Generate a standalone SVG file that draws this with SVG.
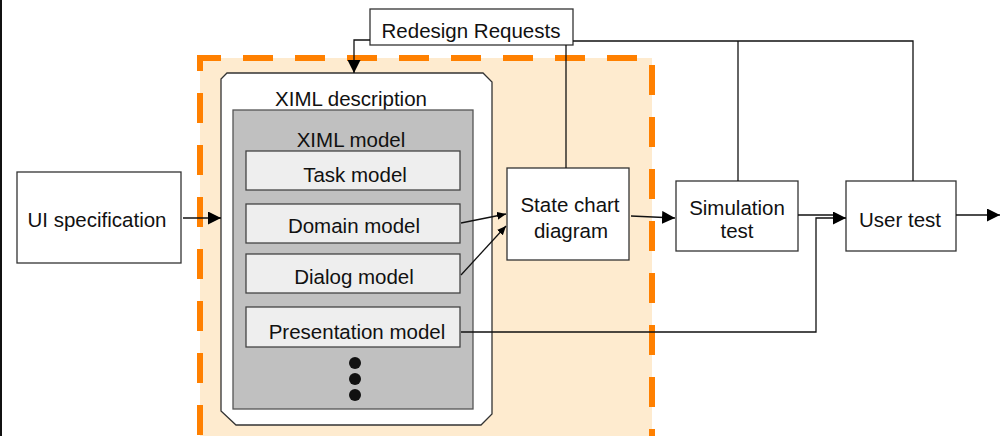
<svg xmlns="http://www.w3.org/2000/svg" width="1001" height="436" viewBox="0 0 1001 436">
<style>
text{font-family:"Liberation Sans",Arial,sans-serif;font-size:20.5px;fill:#111;text-anchor:middle}
.box{fill:#fff;stroke:#333;stroke-width:1.3}
.sub{fill:#eeeeee;stroke:#444;stroke-width:1.3}
.ln{fill:none;stroke:#111;stroke-width:1.3}
</style>
<defs>
<marker id="ah" markerUnits="userSpaceOnUse" markerWidth="14" markerHeight="14" refX="13" refY="6.5" orient="auto">
<path d="M0,0 L13,6.5 L0,13 z" fill="#000"/>
</marker>
<marker id="as" markerUnits="userSpaceOnUse" markerWidth="10" markerHeight="10" refX="9" refY="4" orient="auto">
<path d="M0,0 L9,4 L0,8 z" fill="#000"/>
</marker>
</defs>
<rect width="1001" height="436" fill="#fff"/>
<line x1="1" y1="0" x2="1" y2="436" stroke="#111" stroke-width="2"/>
<g id="region">
<rect x="200" y="58" width="452" height="382" fill="#feebcf" stroke="#ff8000" stroke-width="6" stroke-dasharray="30 22" stroke-dashoffset="9"/>
</g>
<g id="ximl-description">
<polygon class="box" points="227,73 483,73 492,82 492,414 481,425 236,425 221,411 221,79"/>
<text x="351" y="106">XIML description</text>
</g>
<g id="ximl-model">
<rect x="233" y="110" width="240" height="299" fill="#c0c0c0" stroke="#555" stroke-width="1.3"/>
<text x="351" y="147">XIML model</text>
<circle cx="355" cy="363" r="6" fill="#111"/>
<circle cx="355" cy="379" r="6" fill="#111"/>
<circle cx="355" cy="395" r="6" fill="#111"/>
</g>
<g id="task-model">
<rect class="sub" x="246" y="151" width="214" height="39"/>
<text x="355" y="182">Task model</text>
</g>
<g id="domain-model">
<rect class="sub" x="246" y="204" width="214" height="39"/>
<text x="354" y="233">Domain model</text>
</g>
<g id="dialog-model">
<rect class="sub" x="246" y="254" width="214" height="39"/>
<text x="354" y="284">Dialog model</text>
</g>
<g id="presentation-model">
<rect class="sub" x="246" y="307" width="214" height="40"/>
<text x="357" y="339">Presentation model</text>
</g>
<g id="ui-specification">
<rect class="box" x="17" y="172" width="164" height="91"/>
<text x="97" y="227">UI specification</text>
</g>
<g id="state-chart">
<rect class="box" x="507" y="168" width="122" height="92"/>
<text x="570" y="212">State chart</text>
<text x="571" y="238">diagram</text>
</g>
<g id="simulation-test">
<rect class="box" x="676" y="181" width="122" height="70"/>
<text x="737" y="215">Simulation</text>
<text x="737" y="238">test</text>
</g>
<g id="user-test">
<rect class="box" x="846" y="181" width="110" height="70"/>
<text x="900" y="227">User test</text>
</g>
<g id="redesign-requests">
<rect class="box" x="370" y="9" width="203" height="36"/>
<text x="471" y="38">Redesign Requests</text>
</g>
<g id="connectors">
<line class="ln" x1="183" y1="218" x2="221" y2="218" marker-end="url(#ah)"/>
<polyline class="ln" points="370,40 354,40 354,73" marker-end="url(#ah)"/>
<polyline class="ln" points="573,41 913,41 913,181"/>
<line class="ln" x1="738" y1="41" x2="738" y2="181"/>
<line class="ln" x1="566" y1="45" x2="566" y2="168"/>
<line class="ln" x1="461" y1="223" x2="506" y2="214" marker-end="url(#as)"/>
<line class="ln" x1="461" y1="275" x2="506" y2="226" marker-end="url(#as)"/>
<line class="ln" x1="631" y1="216" x2="675" y2="218" marker-end="url(#ah)"/>
<polyline class="ln" points="798,215 833,215"/>
<polyline class="ln" points="461,332 816,332 816,218 846,218" marker-end="url(#ah)"/>
<line class="ln" x1="956" y1="215" x2="1000" y2="215" marker-end="url(#ah)"/>
</g>
</svg>
